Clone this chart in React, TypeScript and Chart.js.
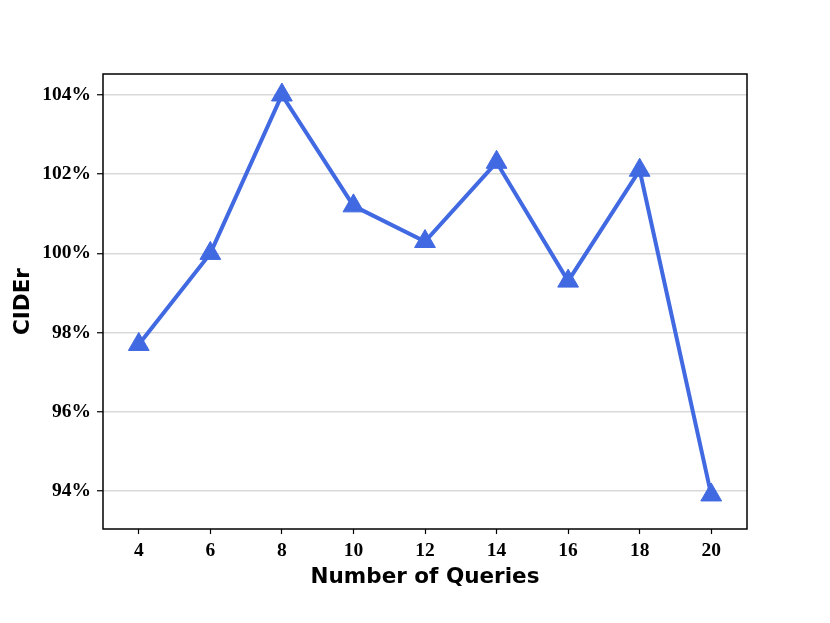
import React, { useEffect, useRef } from "react";
import { Chart, registerables } from "chart.js";

Chart.register(...registerables);

const queries = [4, 6, 8, 10, 12, 14, 16, 18, 20];
const cider = [97.7, 100.0, 104.0, 101.2, 100.3, 102.3, 99.3, 102.1, 93.9];
const yTicks = [94, 96, 98, 100, 102, 104];
const xTicks = [4, 6, 8, 10, 12, 14, 16, 18, 20];

const frame = {
  id: "frame",
  afterDraw(chart: any) {
    const { ctx, chartArea: a } = chart;
    ctx.save();
    ctx.strokeStyle = "#000";
    ctx.lineWidth = 1.5;
    ctx.strokeRect(a.left, a.top, a.right - a.left, a.bottom - a.top);
    ctx.restore();
  },
};

export default function App() {
  const ref = useRef<HTMLCanvasElement>(null);
  useEffect(() => {
    document.body.style.margin = "0";
    const chart = new Chart(ref.current!, {
      type: "line",
      data: {
        datasets: [
          {
            data: queries.map((q, i) => ({ x: q, y: cider[i] })),
            borderColor: "#4169E1",
            backgroundColor: "#4169E1",
            borderWidth: 4,
            pointStyle: "triangle",
            pointRadius: 12,
            pointBorderWidth: 1,
            tension: 0,
          },
        ],
      },
      options: {
        responsive: false,
        animation: false,
        layout: { padding: { left: 11, top: 74, right: 83, bottom: 33 } },
        plugins: { legend: { display: false }, tooltip: { enabled: false } },
        scales: {
          x: {
            type: "linear",
            min: 3,
            max: 21,
            afterBuildTicks: (s: any) => {
              s.ticks = xTicks.map((v) => ({ value: v }));
            },
            afterFit: (s: any) => {
              s.height = 61;
            },
            grid: { drawOnChartArea: false, tickLength: 5, tickColor: "#000", tickWidth: 1.2 },
            border: { display: false },
            ticks: {
              color: "#000",
              padding: 5,
              font: { family: "Liberation Serif", weight: "bold", size: 19.5 },
              callback: (v: any) => String(v),
            },
            title: {
              display: true,
              text: "Number of Queries",
              color: "#000",
              font: { family: "DejaVu Sans", weight: "bold", size: 21.5 },
              padding: { top: 0, bottom: 0 },
            },
          },
          y: {
            min: 93.04,
            max: 104.53,
            afterBuildTicks: (s: any) => {
              s.ticks = yTicks.map((v) => ({ value: v }));
            },
            afterFit: (s: any) => {
              s.width = 92;
            },
            grid: { color: "#d9d9d9", lineWidth: 1.5, tickLength: 6, tickColor: "#000", tickWidth: 1.2 },
            border: { display: false },
            ticks: {
              color: "#000",
              padding: 6,
              font: { family: "Liberation Serif", weight: "bold", size: 19.5 },
              callback: (v: any) => v + "%",
            },
            title: {
              display: true,
              text: "CIDEr",
              color: "#000",
              font: { family: "DejaVu Sans", weight: "bold", size: 21.5 },
              padding: { top: 0, bottom: 0 },
            },
          },
        },
      },
      plugins: [frame],
    });
    return () => chart.destroy();
  }, []);
  return (
    <div style={{ width: 830, height: 623 }}>
      <canvas ref={ref} width={830} height={623} />
    </div>
  );
}
